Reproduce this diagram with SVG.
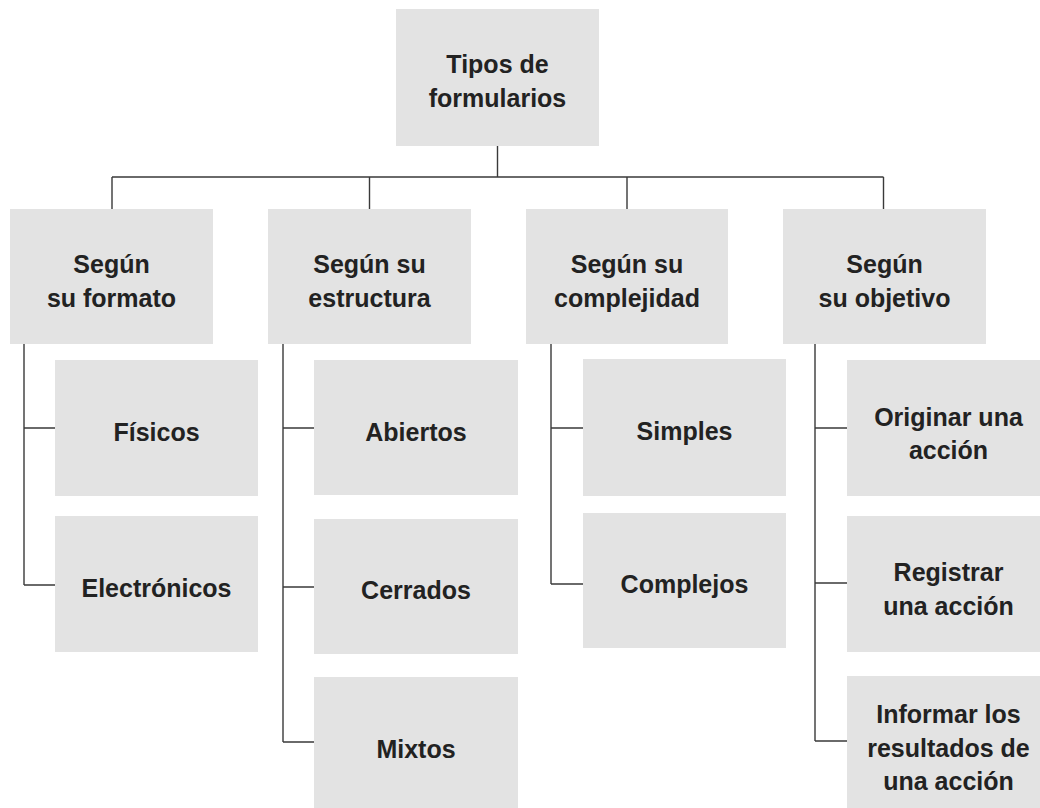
<svg xmlns="http://www.w3.org/2000/svg" width="1040" height="808" viewBox="0 0 1040 808">
  <style>
    .box { fill: #e3e3e3; }
    .lbl { font-family: "Liberation Sans", Arial, Helvetica, sans-serif; font-size: 25px; font-weight: 700; fill: #222222; text-anchor: middle; }
    .conn { fill: none; stroke: #3a3a3a; stroke-width: 1.4; }
  </style>
  <rect width="1040" height="808" fill="#ffffff"/>

  <g id="connectors">
    <path class="conn" d="M497.5,146 V177 M112,177 H883.5 M112,177 V209 M369.5,177 V209 M627,177 V209 M883.5,177 V209"/>
    <path class="conn" d="M24,344 V585 M24,428 H55 M24,585 H55"/>
    <path class="conn" d="M283,344 V742 M283,428 H314 M283,587 H314 M283,742 H314"/>
    <path class="conn" d="M551,344 V584 M551,428 H583 M551,584 H583"/>
    <path class="conn" d="M815,344 V741 M815,428 H847 M815,583 H847 M815,741 H847"/>
  </g>

  <g id="root">
    <rect class="box" x="396" y="9" width="203" height="137"/>
    <text class="lbl" x="497.5" y="73">Tipos de</text>
    <text class="lbl" x="497.5" y="107">formularios</text>
  </g>

  <g id="formato">
    <rect class="box" x="10" y="209" width="203" height="135"/>
    <text class="lbl" x="111.5" y="273">Según</text>
    <text class="lbl" x="111.5" y="307">su formato</text>
  </g>
  <g id="estructura">
    <rect class="box" x="268" y="209" width="203" height="135"/>
    <text class="lbl" x="369.5" y="273">Según su</text>
    <text class="lbl" x="369.5" y="307">estructura</text>
  </g>
  <g id="complejidad">
    <rect class="box" x="526" y="209" width="202" height="135"/>
    <text class="lbl" x="627" y="273">Según su</text>
    <text class="lbl" x="627" y="307">complejidad</text>
  </g>
  <g id="objetivo">
    <rect class="box" x="783" y="209" width="203" height="135"/>
    <text class="lbl" x="884.5" y="273">Según</text>
    <text class="lbl" x="884.5" y="307">su objetivo</text>
  </g>

  <g id="fisicos">
    <rect class="box" x="55" y="360" width="203" height="136"/>
    <text class="lbl" x="156.5" y="441">Físicos</text>
  </g>
  <g id="electronicos">
    <rect class="box" x="55" y="516" width="203" height="136"/>
    <text class="lbl" x="156.5" y="597">Electrónicos</text>
  </g>

  <g id="abiertos">
    <rect class="box" x="314" y="360" width="204" height="135"/>
    <text class="lbl" x="416" y="441">Abiertos</text>
  </g>
  <g id="cerrados">
    <rect class="box" x="314" y="519" width="204" height="135"/>
    <text class="lbl" x="416" y="599">Cerrados</text>
  </g>
  <g id="mixtos">
    <rect class="box" x="314" y="677" width="204" height="136"/>
    <text class="lbl" x="416" y="758">Mixtos</text>
  </g>

  <g id="simples">
    <rect class="box" x="583" y="359" width="203" height="137"/>
    <text class="lbl" x="684.5" y="440">Simples</text>
  </g>
  <g id="complejos">
    <rect class="box" x="583" y="513" width="203" height="135"/>
    <text class="lbl" x="684.5" y="593">Complejos</text>
  </g>

  <g id="originar">
    <rect class="box" x="847" y="360" width="203" height="136"/>
    <text class="lbl" x="948.5" y="426">Originar una</text>
    <text class="lbl" x="948.5" y="459">acción</text>
  </g>
  <g id="registrar">
    <rect class="box" x="847" y="516" width="203" height="136"/>
    <text class="lbl" x="948.5" y="581">Registrar</text>
    <text class="lbl" x="948.5" y="615">una acción</text>
  </g>
  <g id="informar">
    <rect class="box" x="847" y="676" width="203" height="136"/>
    <text class="lbl" x="948.5" y="723">Informar los</text>
    <text class="lbl" x="948.5" y="757">resultados de</text>
    <text class="lbl" x="948.5" y="790">una acción</text>
  </g>
</svg>
